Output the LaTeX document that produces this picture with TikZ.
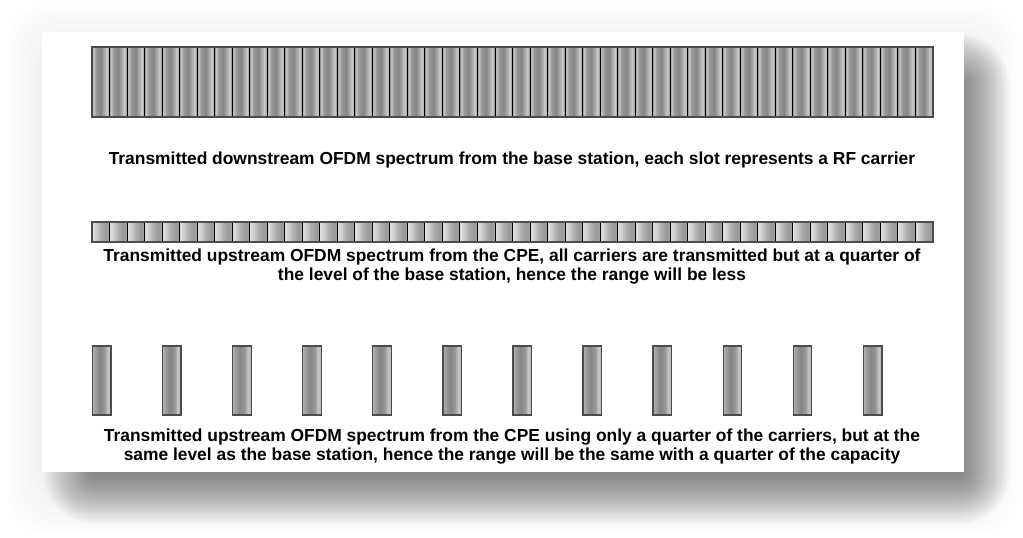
\documentclass[tikz,border=0pt]{standalone}
\usepackage{fontspec}
\setmainfont{Liberation Sans}
\usetikzlibrary{calc}

% horizontal grey ramps used inside each carrier slot
\pgfdeclarehorizontalshading{slottall}{100bp}{%
  color(0bp)=(black!45); color(25bp)=(black!45); color(29bp)=(black!22);
  color(36bp)=(black!40); color(50bp)=(black!48); color(62bp)=(black!30);
  color(68bp)=(black!20); color(72bp)=(black!38); color(75bp)=(black!45);
  color(100bp)=(black!45)}
\pgfdeclarehorizontalshading{slotflat}{100bp}{%
  color(0bp)=(black!12); color(25bp)=(black!12); color(35bp)=(black!18);
  color(50bp)=(black!32); color(65bp)=(black!40); color(75bp)=(black!35);
  color(100bp)=(black!35)}
\pgfdeclarehorizontalshading{slotsingle}{100bp}{%
  color(0bp)=(black!30); color(25bp)=(black!30); color(32bp)=(black!38);
  color(45bp)=(black!48); color(58bp)=(black!40); color(66bp)=(black!22);
  color(72bp)=(black!28); color(75bp)=(black!40); color(100bp)=(black!40)}

\tikzset{
  caption/.style={font=\bfseries\fontsize{17.4}{19}\selectfont, align=center,
    inner sep=0pt, text=black},
  barframe/.style={draw=black!70, line width=1.6pt},
  slotline/.style={draw=black, line width=0.9pt},
}

\begin{document}
\begin{tikzpicture}[x=1pt,y=-1pt]
  \useasboundingbox (0,0) rectangle (1023,538);
  \fill[white] (0,0) rectangle (1023,538);

  % faint halo around the page
  \foreach \k in {0,...,6}
    \fill[black, opacity=0.006, rounded corners=40pt]
      ({8+\k*5},{6+\k*5}) rectangle ({1017-\k*5},{533-\k*5});
  % soft drop shadow, heavier towards the lower right
  \foreach \k in {0,...,24}
    \fill[black, opacity=0.021, rounded corners={\k*2pt+2pt}]
      ({92-\k*2},{82-\k*2}) rectangle ({962+\k*2},{476+\k*2});

  % the page
  \fill[white] (42,32) rectangle (964,472);

  % downstream spectrum: 48 carriers
  \foreach \i in {0,...,47}
    \shade[shading=slottall] ({92+\i*17.52},47) rectangle ++(17.52,70);
  \foreach \i in {1,...,47}
    \draw[slotline] ({92+\i*17.52},47) -- ++(0,70);
  \draw[barframe] (92,47) rectangle (933,117);

  \node[caption] (t1) at (512,160)
    {Transmitted downstream OFDM spectrum from the base station, each slot represents a RF carrier};

  % upstream spectrum at a quarter of the level
  \foreach \i in {0,...,47}
    \shade[shading=slotflat] ({92+\i*17.52},222) rectangle ++(17.52,20);
  \foreach \i in {1,...,47}
    \draw[slotline] ({92+\i*17.52},222) -- ++(0,20);
  \draw[barframe] (92,222) rectangle (933,242);

  \node[caption] (t2) at (512,266.5)
    {Transmitted upstream OFDM spectrum from the CPE, all carriers are transmitted but at a quarter of\\
     the level of the base station, hence the range will be less};

  % upstream spectrum using every fourth carrier
  \foreach \i in {0,...,11}{
    \shade[shading=slotsingle] ({92.5+\i*70.08},346) rectangle ++(18.5,69);
    \draw[draw=black!70, line width=1.3pt] ({92.5+\i*70.08},346) rectangle ++(18.5,69);
  }

  \node[caption] (t3) at (512,446.5)
    {Transmitted upstream OFDM spectrum from the CPE using only a quarter of the carriers, but at the\\
     same level as the base station, hence the range will be the same with a quarter of the capacity};
\end{tikzpicture}
\end{document}
